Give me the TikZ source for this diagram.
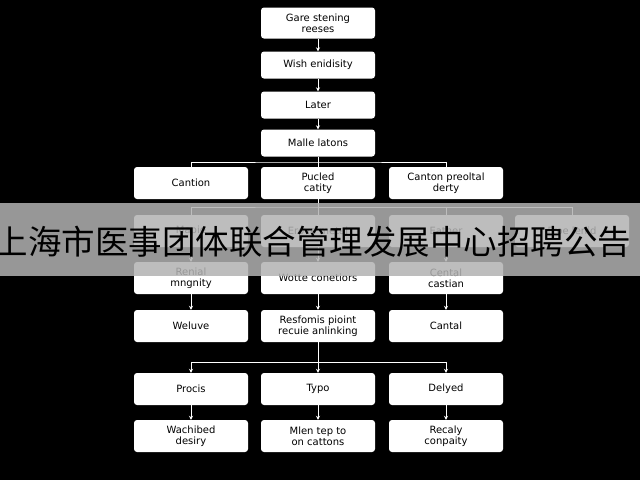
\documentclass[tikz,border=0pt]{standalone}
\usepackage{fontspec}
\setmainfont{DejaVu Sans}
\newfontfamily\cjk{Noto Sans CJK SC}
\usetikzlibrary{arrows.meta}

\tikzset{
  box/.style={draw=none,fill=white,rounded corners=3pt,minimum width=114pt,minimum height=32pt,align=center,font=\fontsize{10}{11}\selectfont,inner sep=1pt},
  link/.style={draw=white,line width=1pt},
  arr/.style={link,-{Stealth[length=4pt,width=4pt]}}
}

\begin{document}
\begin{tikzpicture}[x=1pt,y=1pt,yscale=-1]
\useasboundingbox (0,0) rectangle (640,480);
\fill[black] (0,0) rectangle (640,480);

%Top column
\node[box,minimum height=31pt] (gate) at (318,23) {Gare stening\\reeses};
\node[box,minimum height=27pt] (wish) at (318,65) {Wish enidisity};
\node[box,minimum height=27pt] (later) at (318,105) {Later};
\node[box,minimum height=27pt] (malle) at (318,143) {Malle latons};

%Row A
\node[box] (cartion) at (191,183) {Cantion};
\node[box] (pucled) at (318,183) {Pucled\\catity};
\node[box] (canton) at (446,183) {Canton preoltal\\derty};

%Row B
\node[box] (mapie) at (191,231) {Mapie};
\node[box] (erova) at (318,231) {Erova metal};
\node[box] (eather) at (446,231) {Eather};
\node[box] (froe) at (572,231) {Froe lenid};

%Row C
\node[box] (renial) at (191,278) {Renial\\mngnity};
\node[box] (wotte) at (318,278) {Wotte conetiors};
\node[box] (cental) at (446,278) {Cental\\castian};

%Row D
\node[box] (weluve) at (191,326) {Weluve};
\node[box] (resfomis) at (318,326) {Resfomis pioint\\recuie anlinking};
\node[box] (cantal) at (446,326) {Cantal};

%Row E
\node[box] (procis) at (191,389) {Procis};
\node[box] (typo) at (318,389) {Typo};
\node[box] (delyed) at (446,389) {Delyed};

%Row F
\node[box] (wachibed) at (191,436) {Wachibed\\desiry};
\node[box] (mlen) at (318,436) {Mlen tep to\\on cattons};
\node[box] (recaly) at (446,436) {Recaly\\conpaity};

%Connectors
\draw[arr] (gate) -- (wish);
\draw[arr] (wish) -- (later);
\draw[arr] (later) -- (malle);
\coordinate (busA) at (318,162);
\draw[link] (malle) -- (busA);
\draw[link] (cartion.north) |- (busA) -| (canton.north);
\draw[link] (busA) -- (pucled);
\coordinate (busB) at (318,207);
\draw[link] (pucled) -- (busB);
\draw[link] (mapie.north) |- (busB) -| (froe.north);
\draw[link] (eather.north) |- (busB);
\draw[link] (busB) -- (erova);
\draw[arr] (mapie) -- (renial);
\draw[arr] (erova) -- (wotte);
\draw[arr] (eather) -- (cental);
\draw[arr] (renial) -- (weluve);
\draw[arr] (wotte) -- (resfomis);
\draw[arr] (cental) -- (cantal);
\coordinate (busE) at (318,362);
\draw[link] (resfomis) -- (busE);
\draw[arr] (busE) -| (procis.north);
\draw[arr] (busE) -| (delyed.north);
\draw[arr] (busE) -- (typo);
\draw[arr] (procis) -- (wachibed);
\draw[arr] (typo) -- (mlen);
\draw[arr] (delyed) -- (recaly);

%Banner
\fill[gray!60,opacity=0.85] (0,203) rectangle (640,276);
\node[font=\cjk\fontsize{33.5}{34}\selectfont,text=black] (banner) at (313,242) {上海市医事团体联合管理发展中心招聘公告};
\end{tikzpicture}
\end{document}
